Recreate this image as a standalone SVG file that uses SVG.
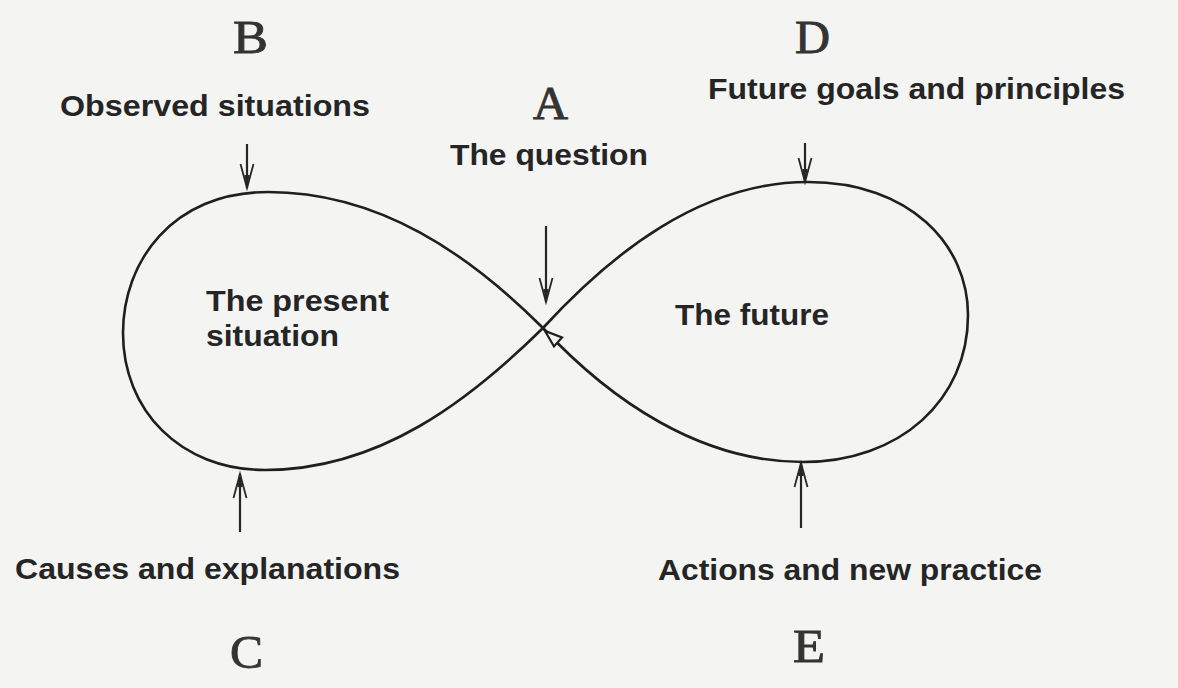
<svg xmlns="http://www.w3.org/2000/svg" width="1178" height="688" viewBox="0 0 1178 688">
  <defs>
    <style>
      .label { font-family: "Liberation Sans", Arial, sans-serif; font-weight: bold; font-size: 29.5px; fill: #252525; }
      .letter { font-family: "Liberation Serif", "Times New Roman", serif; font-size: 47px; fill: #333333; stroke: #333333; stroke-width: 0.9; }
      .loop { fill: none; stroke: #1f1f1f; stroke-width: 2.6; }
      .pointer { fill: none; stroke: #262626; stroke-width: 2.2; }
    </style>
    <marker id="barb" markerUnits="userSpaceOnUse" markerWidth="30" markerHeight="20" viewBox="-26 -10 30 20" refX="0" refY="0" orient="auto">
      <path d="M-24,-6.5 L0,0 L-24,6.5" fill="none" stroke="#262626" stroke-width="1.8"/>
      <path d="M-13,-2.6 L0,0 L-13,2.6 Z" fill="#262626"/>
    </marker>
  </defs>

  <rect x="0" y="0" width="1178" height="688" fill="#f4f4f2"/>

  <!-- figure-eight loop -->
  <g id="connectors">
    <path class="loop" d="M543,328 C470,255 380,192 268,192 C172,192 123,262 123,333 C123,410 180,470 265,470 C380,470 470,400 543,328 C610,255 700,182 808,182 C910,182 968,245 968,315 C968,400 900,462 803,462 C700,462 610,400 543,328 Z"/>
    <!-- direction mark at the crossing -->
    <polygon points="545,331 554,346.5 562,337.5" fill="#f4f4f2" stroke="#1f1f1f" stroke-width="2.2" stroke-linejoin="miter"/>
    <!-- pointers onto the loop -->
    <line class="pointer" x1="546" y1="226" x2="546" y2="302" marker-end="url(#barb)"/>
    <line class="pointer" x1="247" y1="144" x2="247" y2="188" marker-end="url(#barb)"/>
    <line class="pointer" x1="240" y1="532" x2="240" y2="474" marker-end="url(#barb)"/>
    <line class="pointer" x1="805" y1="143" x2="805" y2="182" marker-end="url(#barb)"/>
    <line class="pointer" x1="801" y1="528" x2="801" y2="463" marker-end="url(#barb)"/>
  </g>

  <g id="node-a">
    <text class="letter" x="533" y="119" textLength="35" lengthAdjust="spacingAndGlyphs">A</text>
    <text class="label" x="450" y="165" textLength="198" lengthAdjust="spacingAndGlyphs">The question</text>
  </g>

  <g id="node-b">
    <text class="letter" x="233" y="53" textLength="35" lengthAdjust="spacingAndGlyphs">B</text>
    <text class="label" x="60" y="116" textLength="310" lengthAdjust="spacingAndGlyphs">Observed situations</text>
  </g>

  <g id="node-c">
    <text class="label" x="15" y="579" textLength="385" lengthAdjust="spacingAndGlyphs">Causes and explanations</text>
    <text class="letter" x="230" y="668" textLength="33" lengthAdjust="spacingAndGlyphs">C</text>
  </g>

  <g id="node-d">
    <text class="letter" x="795" y="53" textLength="35" lengthAdjust="spacingAndGlyphs">D</text>
    <text class="label" x="708" y="99" textLength="417" lengthAdjust="spacingAndGlyphs">Future goals and principles</text>
  </g>

  <g id="node-e">
    <text class="label" x="658" y="580" textLength="384" lengthAdjust="spacingAndGlyphs">Actions and new practice</text>
    <text class="letter" x="793" y="662" textLength="32" lengthAdjust="spacingAndGlyphs">E</text>
  </g>

  <g id="node-present">
    <text class="label" x="206" y="311" textLength="183" lengthAdjust="spacingAndGlyphs">The present</text>
    <text class="label" x="206" y="346" textLength="133" lengthAdjust="spacingAndGlyphs">situation</text>
  </g>

  <g id="node-future">
    <text class="label" x="675" y="325" textLength="154" lengthAdjust="spacingAndGlyphs">The future</text>
  </g>
</svg>
